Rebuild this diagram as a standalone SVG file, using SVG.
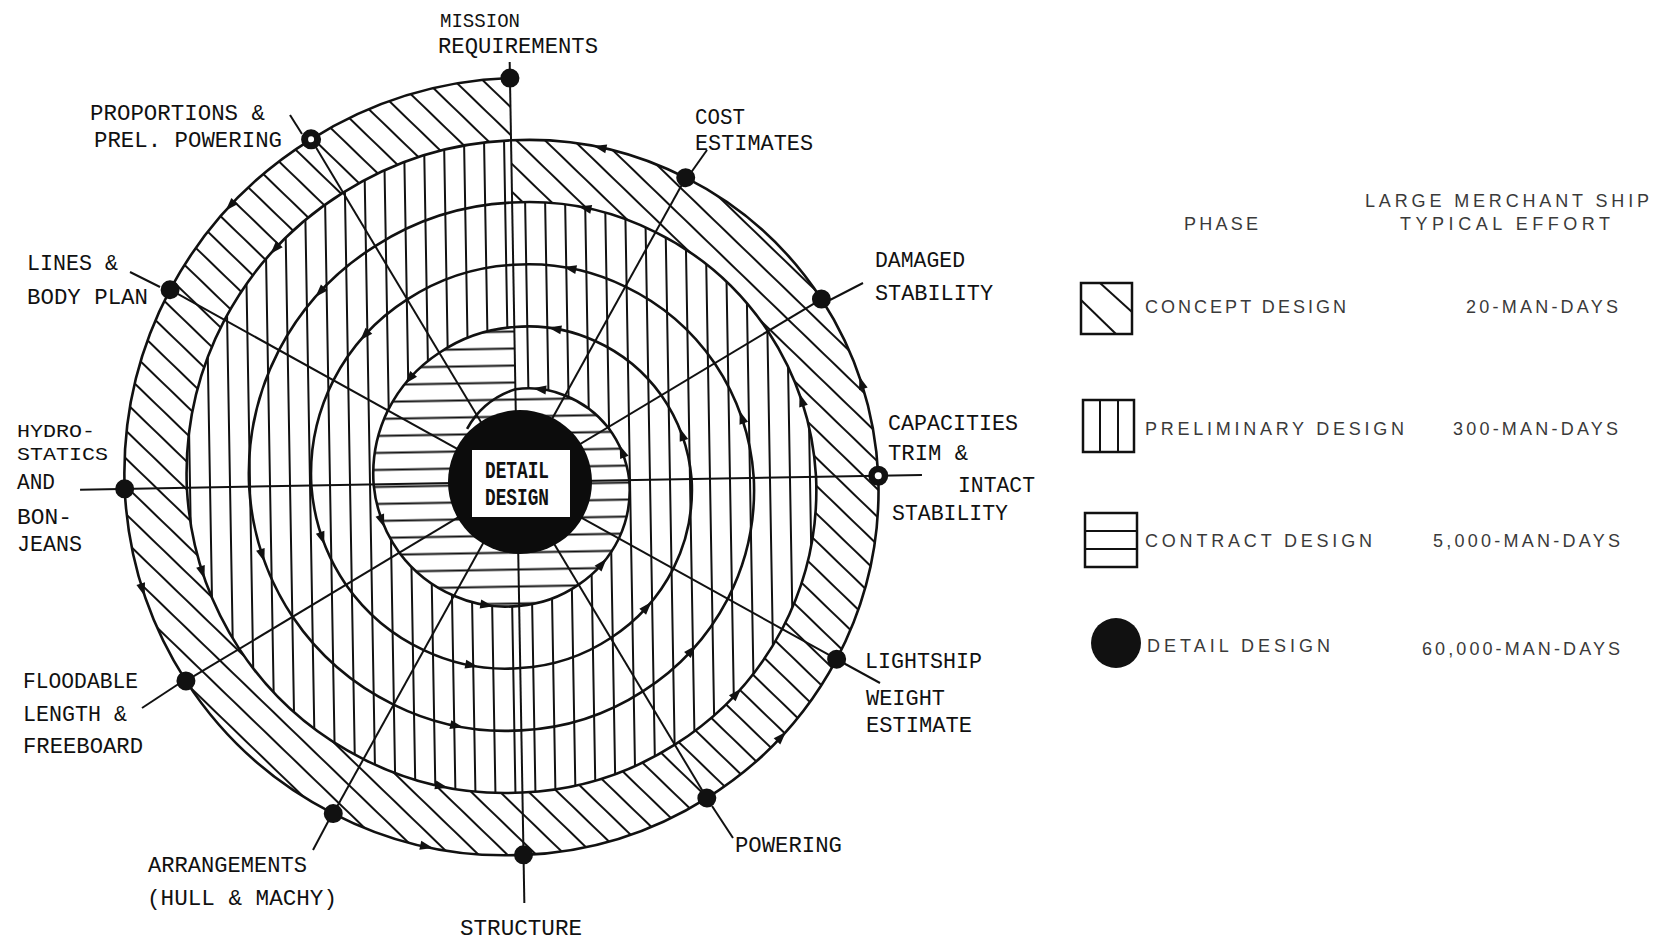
<svg xmlns="http://www.w3.org/2000/svg" width="1656" height="941" viewBox="0 0 1656 941">
<style>
.sp{fill:none;stroke:#111;stroke-width:2.6;stroke-linejoin:round}
.rl{stroke:#111;stroke-width:2;fill:none}
.ld{stroke:#111;stroke-width:2;fill:none}
.dot{fill:#111}
.lbl{font-family:"Liberation Mono","DejaVu Sans Mono",monospace;font-size:22px;fill:#111}
.lg{font-family:"Liberation Sans","DejaVu Sans",sans-serif;font-size:18px;fill:#3a3a3a}
.box{fill:#fff;stroke:#111;stroke-width:2.5}
.hl{stroke:#111;stroke-width:2}
</style>
<defs>
<pattern id="hDiag" patternUnits="userSpaceOnUse" width="40" height="20" patternTransform="rotate(45)"><line x1="0" y1="10" x2="40" y2="10" stroke="#111" stroke-width="2"/></pattern>
<pattern id="hVert" patternUnits="userSpaceOnUse" width="20" height="40"><line x1="10" y1="0" x2="10" y2="40" stroke="#111" stroke-width="2"/></pattern>
<pattern id="hHorz" patternUnits="userSpaceOnUse" width="40" height="17"><line x1="0" y1="8.5" x2="40" y2="8.5" stroke="#111" stroke-width="2"/></pattern>
<marker id="arr" viewBox="-7 -5 14 10" markerWidth="14" markerHeight="10" markerUnits="userSpaceOnUse" orient="auto" refX="0" refY="0" overflow="visible"><path d="M-6,-4.5 L7,0 L-6,4.5 Z" fill="#111"/></marker>
</defs>
<rect width="1656" height="941" fill="#fff"/>

<g id="spiral" transform="rotate(-1 517 482)">
<path id="band-concept" fill="url(#hDiag)" fill-rule="evenodd" d="M517,78 A402,402 0 0 0 317.1,135.8 A398,398 0 0 0 173.5,283.7 A394.5,394.5 0 0 0 124.6,482 A389.3,389.3 0 0 0 182.5,675.1 A382.7,382.7 0 0 0 327.5,810.3 A376,376 0 0 0 517,854.9 A370.8,370.8 0 0 0 701.3,801.3 A367.1,367.1 0 0 0 833.5,664.75 A363.4,363.4 0 0 0 878.3,482 A358.2,358.2 0 0 0 824.6,304.4 A351.5,351.5 0 0 0 691,180.7 A344.8,344.8 0 0 0 517,140.25 Z M517,140.25 A339.7,339.7 0 0 0 348.2,189.7 A336,336 0 0 0 227.4,314.8 A332.3,332.3 0 0 0 186.8,482 A327.1,327.1 0 0 0 236.4,644 A320.4,320.4 0 0 0 358.6,756.4 A313.7,313.7 0 0 0 517,792.6 A308.5,308.5 0 0 0 670.2,747.4 A304.8,304.8 0 0 0 779.6,633.6 A301.2,301.2 0 0 0 816.1,482 A296,296 0 0 0 770.6,335.6 A289.3,289.3 0 0 0 659.8,234.6 A282.6,282.6 0 0 0 517,202.5 Z"/>
<path id="band-preliminary" fill="url(#hVert)" fill-rule="evenodd" d="M517,140.25 A339.7,339.7 0 0 0 348.2,189.7 A336,336 0 0 0 227.4,314.8 A332.3,332.3 0 0 0 186.8,482 A327.1,327.1 0 0 0 236.4,644 A320.4,320.4 0 0 0 358.6,756.4 A313.7,313.7 0 0 0 517,792.6 A308.5,308.5 0 0 0 670.2,747.4 A304.8,304.8 0 0 0 779.6,633.6 A301.2,301.2 0 0 0 816.1,482 A296,296 0 0 0 770.6,335.6 A289.3,289.3 0 0 0 659.8,234.6 A282.6,282.6 0 0 0 517,202.5 Z M517,327 A152.9,152.9 0 0 0 441.6,351.4 A149.2,149.2 0 0 0 389.15,408.2 A145.5,145.5 0 0 0 373.6,482 A140.3,140.3 0 0 0 398.1,550.6 A133.7,133.7 0 0 0 452,594.6 A127,127 0 0 0 517,605.9 A121.8,121.8 0 0 0 576.8,585.7 A118.1,118.1 0 0 0 617.9,540.25 A114.4,114.4 0 0 0 629.3,482 A109.2,109.2 0 0 0 608.9,428.9 A102.5,102.5 0 0 0 566.5,396.3 A95.8,95.8 0 0 0 517,389.25 Z"/>
<path id="band-contract" fill="url(#hHorz)" d="M517,327 A152.9,152.9 0 0 0 441.6,351.4 A149.2,149.2 0 0 0 389.15,408.2 A145.5,145.5 0 0 0 373.6,482 A140.3,140.3 0 0 0 398.1,550.6 A133.7,133.7 0 0 0 452,594.6 A127,127 0 0 0 517,605.9 A121.8,121.8 0 0 0 576.8,585.7 A118.1,118.1 0 0 0 617.9,540.25 A114.4,114.4 0 0 0 629.3,482 A109.2,109.2 0 0 0 608.9,428.9 A102.5,102.5 0 0 0 566.5,396.3 A95.8,95.8 0 0 0 517,389.25 Z"/>
</g>

<g id="connectors">
<g id="radials" transform="rotate(-1 517 482)">
<line class="rl" x1="517" y1="62" x2="517" y2="903"/>
<line class="rl" x1="80" y1="482" x2="922" y2="482"/>
<line class="rl" x1="317.1" y1="135.8" x2="701.3" y2="801.3"/>
<line class="rl" x1="173.5" y1="283.7" x2="833.5" y2="664.75"/>
<line class="rl" x1="182.5" y1="675.1" x2="824.6" y2="304.4"/>
<line class="rl" x1="327.5" y1="810.3" x2="691" y2="180.7"/>
<path id="spiral-line" class="sp" d="M517,78 A402,402 0 0 0 317.1,135.8 A398,398 0 0 0 173.5,283.7 A394.5,394.5 0 0 0 124.6,482 A389.3,389.3 0 0 0 182.5,675.1 A382.7,382.7 0 0 0 327.5,810.3 A376,376 0 0 0 517,854.9 A370.8,370.8 0 0 0 701.3,801.3 A367.1,367.1 0 0 0 833.5,664.75 A363.4,363.4 0 0 0 878.3,482 A358.2,358.2 0 0 0 824.6,304.4 A351.5,351.5 0 0 0 691,180.7 A344.8,344.8 0 0 0 517,140.25 A339.7,339.7 0 0 0 348.2,189.7 A336,336 0 0 0 227.4,314.8 A332.3,332.3 0 0 0 186.8,482 A327.1,327.1 0 0 0 236.4,644 A320.4,320.4 0 0 0 358.6,756.4 A313.7,313.7 0 0 0 517,792.6 A308.5,308.5 0 0 0 670.2,747.4 A304.8,304.8 0 0 0 779.6,633.6 A301.2,301.2 0 0 0 816.1,482 A296,296 0 0 0 770.6,335.6 A289.3,289.3 0 0 0 659.8,234.6 A282.6,282.6 0 0 0 517,202.5 A277.4,277.4 0 0 0 379.3,243.6 A273.7,273.7 0 0 0 281.3,345.9 A270,270 0 0 0 249.1,482 A264.8,264.8 0 0 0 290.3,612.9 A258.2,258.2 0 0 0 389.7,702.4 A251.5,251.5 0 0 0 517,730.4 A246.3,246.3 0 0 0 639.1,693.5 A242.6,242.6 0 0 0 725.7,602.5 A238.9,238.9 0 0 0 753.8,482 A233.7,233.7 0 0 0 716.7,366.7 A227,227 0 0 0 628.7,288.5 A220.3,220.3 0 0 0 517,264.75 A215.2,215.2 0 0 0 410.5,297.5 A211.5,211.5 0 0 0 335.2,377.1 A207.8,207.8 0 0 0 311.3,482 A202.6,202.6 0 0 0 344.2,581.75 A195.9,195.9 0 0 0 420.8,648.5 A189.2,189.2 0 0 0 517,668.1 A184,184 0 0 0 608,639.6 A180.3,180.3 0 0 0 671.8,571.4 A176.7,176.7 0 0 0 691.6,482 A171.5,171.5 0 0 0 662.8,397.8 A164.8,164.8 0 0 0 597.6,342.4 A158.1,158.1 0 0 0 517,327 A152.9,152.9 0 0 0 441.6,351.4 A149.2,149.2 0 0 0 389.15,408.2 A145.5,145.5 0 0 0 373.6,482 A140.3,140.3 0 0 0 398.1,550.6 A133.7,133.7 0 0 0 452,594.6 A127,127 0 0 0 517,605.9 A121.8,121.8 0 0 0 576.8,585.7 A118.1,118.1 0 0 0 617.9,540.25 A114.4,114.4 0 0 0 629.3,482 A109.2,109.2 0 0 0 608.9,428.9 A102.5,102.5 0 0 0 566.5,396.3 A95.8,95.8 0 0 0 517,389.25 A85,85 0 0 0 468,428"/>
<path id="flow-arrows" fill="none" stroke="none" marker-start="url(#arr)" marker-mid="url(#arr)" marker-end="url(#arr)" d="M235.4,200.4 A393.9,393.9 0 0 0 140.7,582.8 A382.7,382.7 0 0 0 419.8,844.9 A371.4,371.4 0 0 0 776.6,741.6 A362.8,362.8 0 0 0 863.2,389.2 A351.5,351.5 0 0 0 606.2,149.1 A340.3,340.3 0 0 0 279.4,244.4 A331.6,331.6 0 0 0 200.8,566.7 A320.4,320.4 0 0 0 435.9,784.8 A309.2,309.2 0 0 0 732.6,697.6 A300.5,300.5 0 0 0 803.1,405.3 A289.3,289.3 0 0 0 590.1,209.3 A278,278 0 0 0 323.5,288.5 A269.4,269.4 0 0 0 261,550.6 A258.2,258.2 0 0 0 452,724.7 A246.9,246.9 0 0 0 688.5,653.5 A238.3,238.3 0 0 0 743,421.5 A227,227 0 0 0 574,269.4 A215.8,215.8 0 0 0 367.5,332.5 A207.1,207.1 0 0 0 321.1,534.5 A195.9,195.9 0 0 0 468.1,664.5 A184.7,184.7 0 0 0 644.5,609.5 A176,176 0 0 0 682.8,437.6 A164.8,164.8 0 0 0 557.9,329.5 A153.5,153.5 0 0 0 411.5,376.5 A144.9,144.9 0 0 0 381.2,518.4 A133.7,133.7 0 0 0 484.2,604.4 A122.4,122.4 0 0 0 600.5,565.5 A113.8,113.8 0 0 0 622.7,453.7 A102.5,102.5 0 0 0 541.7,389.6"/>
</g>
<g id="leaders">
<line class="ld" x1="290" y1="115" x2="302" y2="134"/>
<line class="ld" x1="130" y1="272" x2="160" y2="287"/>
<line class="ld" x1="707" y1="150" x2="690" y2="174"/>
<line class="ld" x1="863" y1="283" x2="830" y2="300"/>
<line class="ld" x1="838" y1="660" x2="880" y2="683"/>
<line class="ld" x1="712" y1="806" x2="733" y2="838"/>
<line class="ld" x1="313" y1="850" x2="330" y2="818"/>
<line class="ld" x1="142" y1="708" x2="180" y2="683"/>
</g>
</g>

<g id="node-detail-design">
<circle cx="520" cy="482" r="72" fill="#0c0c0c"/>
<rect x="472" y="450" width="98" height="67" fill="#fff"/>
<text class="lbl" x="485" y="478" textLength="64" lengthAdjust="spacingAndGlyphs" style="font-size:23px;font-weight:bold">DETAIL</text>
<text class="lbl" x="485" y="505" textLength="64" lengthAdjust="spacingAndGlyphs" style="font-size:23px;font-weight:bold">DESIGN</text>
</g>

<g id="node-mission">
<circle class="dot" cx="517" cy="78" r="9.5" transform="rotate(-1 517 482)"/>
<text class="lbl" x="440" y="27" textLength="80" lengthAdjust="spacingAndGlyphs" style="font-size:20px">MISSION</text>
<text class="lbl" x="438" y="53" textLength="160" lengthAdjust="spacingAndGlyphs">REQUIREMENTS</text>
</g>
<g id="node-proportions">
<g transform="rotate(-1 517 482)"><circle class="dot" cx="317.1" cy="135.8" r="10"/><circle cx="317.1" cy="135.8" r="3" fill="#fff"/></g>
<text class="lbl" x="90" y="120" textLength="175" lengthAdjust="spacingAndGlyphs">PROPORTIONS &amp;</text>
<text class="lbl" x="94" y="147" textLength="188" lengthAdjust="spacingAndGlyphs">PREL. POWERING</text>
</g>
<g id="node-lines">
<circle class="dot" cx="173.5" cy="283.7" r="9.5" transform="rotate(-1 517 482)"/>
<text class="lbl" x="27" y="270" textLength="91" lengthAdjust="spacingAndGlyphs">LINES &amp;</text>
<text class="lbl" x="27" y="304" textLength="121" lengthAdjust="spacingAndGlyphs">BODY PLAN</text>
</g>
<g id="node-hydrostatics">
<circle class="dot" cx="124.6" cy="482" r="9.5" transform="rotate(-1 517 482)"/>
<text class="lbl" x="17" y="437" textLength="78" lengthAdjust="spacingAndGlyphs" style="font-size:19px">HYDRO-</text>
<text class="lbl" x="17" y="460" textLength="91" lengthAdjust="spacingAndGlyphs" style="font-size:19px">STATICS</text>
<text class="lbl" x="17" y="489" textLength="38" lengthAdjust="spacingAndGlyphs">AND</text>
<text class="lbl" x="17" y="524" textLength="55" lengthAdjust="spacingAndGlyphs">BON-</text>
<text class="lbl" x="17" y="551" textLength="65" lengthAdjust="spacingAndGlyphs">JEANS</text>
</g>
<g id="node-floodable">
<circle class="dot" cx="182.5" cy="675.1" r="9.5" transform="rotate(-1 517 482)"/>
<text class="lbl" x="23" y="688" textLength="115" lengthAdjust="spacingAndGlyphs">FLOODABLE</text>
<text class="lbl" x="23" y="721" textLength="104" lengthAdjust="spacingAndGlyphs">LENGTH &amp;</text>
<text class="lbl" x="23" y="753" textLength="120" lengthAdjust="spacingAndGlyphs">FREEBOARD</text>
</g>
<g id="node-arrangements">
<circle class="dot" cx="327.5" cy="810.3" r="9.5" transform="rotate(-1 517 482)"/>
<text class="lbl" x="148" y="872" textLength="159" lengthAdjust="spacingAndGlyphs">ARRANGEMENTS</text>
<text class="lbl" x="147" y="905" textLength="190" lengthAdjust="spacingAndGlyphs">(HULL &amp; MACHY)</text>
</g>
<g id="node-structure">
<circle class="dot" cx="517" cy="854.9" r="9.5" transform="rotate(-1 517 482)"/>
<text class="lbl" x="460" y="935" textLength="122" lengthAdjust="spacingAndGlyphs">STRUCTURE</text>
</g>
<g id="node-powering">
<circle class="dot" cx="701.3" cy="801.3" r="9.5" transform="rotate(-1 517 482)"/>
<text class="lbl" x="735" y="852" textLength="107" lengthAdjust="spacingAndGlyphs">POWERING</text>
</g>
<g id="node-lightship">
<circle class="dot" cx="833.5" cy="664.75" r="9.5" transform="rotate(-1 517 482)"/>
<text class="lbl" x="865" y="668" textLength="117" lengthAdjust="spacingAndGlyphs">LIGHTSHIP</text>
<text class="lbl" x="866" y="705" textLength="79" lengthAdjust="spacingAndGlyphs">WEIGHT</text>
<text class="lbl" x="866" y="732" textLength="106" lengthAdjust="spacingAndGlyphs">ESTIMATE</text>
</g>
<g id="node-capacities">
<g transform="rotate(-1 517 482)"><circle class="dot" cx="878.3" cy="482" r="10"/><circle cx="878.3" cy="482" r="3.5" fill="#fff"/></g>
<text class="lbl" x="888" y="430" textLength="130" lengthAdjust="spacingAndGlyphs">CAPACITIES</text>
<text class="lbl" x="888" y="460" textLength="80" lengthAdjust="spacingAndGlyphs">TRIM &amp;</text>
<text class="lbl" x="958" y="492" textLength="77" lengthAdjust="spacingAndGlyphs">INTACT</text>
<text class="lbl" x="892" y="520" textLength="116" lengthAdjust="spacingAndGlyphs">STABILITY</text>
</g>
<g id="node-damaged">
<circle class="dot" cx="824.6" cy="304.4" r="9.5" transform="rotate(-1 517 482)"/>
<text class="lbl" x="875" y="267" textLength="90" lengthAdjust="spacingAndGlyphs">DAMAGED</text>
<text class="lbl" x="875" y="300" textLength="118" lengthAdjust="spacingAndGlyphs">STABILITY</text>
</g>
<g id="node-cost">
<circle class="dot" cx="691" cy="180.7" r="9.5" transform="rotate(-1 517 482)"/>
<text class="lbl" x="695" y="124" textLength="50" lengthAdjust="spacingAndGlyphs">COST</text>
<text class="lbl" x="695" y="150" textLength="118" lengthAdjust="spacingAndGlyphs">ESTIMATES</text>
</g>

<g id="legend">
<text class="lg" x="1184" y="230" textLength="74" lengthAdjust="spacing">PHASE</text>
<text class="lg" x="1365" y="207" textLength="284" lengthAdjust="spacing">LARGE MERCHANT SHIP</text>
<text class="lg" x="1400" y="230" textLength="210" lengthAdjust="spacing">TYPICAL EFFORT</text>
<g id="legend-concept">
<rect class="box" x="1081" y="283" width="51" height="51"/>
<line class="hl" x1="1100" y1="283" x2="1132" y2="312"/>
<line class="hl" x1="1081" y1="300" x2="1116" y2="334"/>
<text class="lg" x="1145" y="313" textLength="201" lengthAdjust="spacing">CONCEPT DESIGN</text>
<text class="lg" x="1466" y="313" textLength="152" lengthAdjust="spacing">20-MAN-DAYS</text>
</g>
<g id="legend-preliminary">
<rect class="box" x="1083" y="400" width="51" height="52"/>
<line class="hl" x1="1100" y1="400" x2="1100" y2="452"/>
<line class="hl" x1="1118" y1="400" x2="1118" y2="452"/>
<text class="lg" x="1145" y="435" textLength="259" lengthAdjust="spacing">PRELIMINARY DESIGN</text>
<text class="lg" x="1453" y="435" textLength="165" lengthAdjust="spacing">300-MAN-DAYS</text>
</g>
<g id="legend-contract">
<rect class="box" x="1085" y="513" width="52" height="54"/>
<line class="hl" x1="1085" y1="531" x2="1137" y2="531"/>
<line class="hl" x1="1085" y1="549" x2="1137" y2="549"/>
<text class="lg" x="1145" y="547" textLength="227" lengthAdjust="spacing">CONTRACT DESIGN</text>
<text class="lg" x="1433" y="547" textLength="187" lengthAdjust="spacing">5,000-MAN-DAYS</text>
</g>
<g id="legend-detail">
<circle cx="1116" cy="643" r="25" fill="#111"/>
<text class="lg" x="1147" y="652" textLength="183" lengthAdjust="spacing">DETAIL DESIGN</text>
<text class="lg" x="1422" y="655" textLength="198" lengthAdjust="spacing">60,000-MAN-DAYS</text>
</g>
</g>
</svg>
